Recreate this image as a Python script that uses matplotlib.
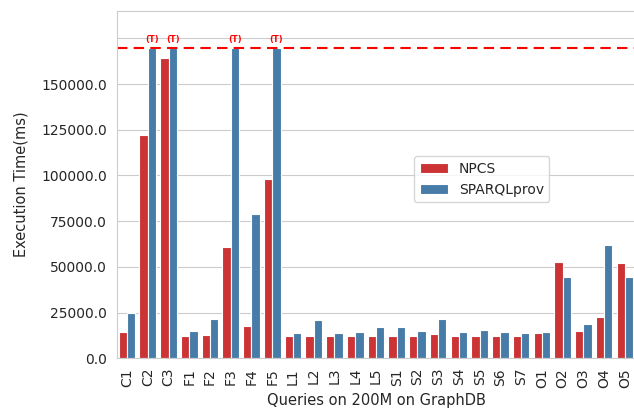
import numpy as np
import pandas as pd
import matplotlib
matplotlib.use("Agg")
import matplotlib.pyplot as plt
import seaborn as sns

# Query names and execution times (ms)
queries = ['C1', 'C2', 'C3', 'F1', 'F2', 'F3', 'F4', 'F5',
           'L1', 'L2', 'L3', 'L4', 'L5',
           'S1', 'S2', 'S3', 'S4', 'S5', 'S6', 'S7',
           'O1', 'O2', 'O3', 'O4', 'O5']
npcs = [14300, 122000, 164300, 11900, 12900, 61000, 17900, 98100,
        11900, 12400, 11900, 11900, 12400,
        12400, 12400, 13200, 11900, 11900, 11900, 11900,
        13700, 52600, 14800, 22700, 52300]
sparqlprov = [25000, 170000, 170000, 15100, 21700, 170000, 79000, 170000,
              13700, 21000, 13700, 14600, 17000,
              17000, 15100, 21700, 14300, 15700, 14300, 13700,
              14300, 44200, 19000, 62100, 44200]
timeout = 170000
# which (method, query) pairs hit the timeout
timed_out = [('SPARQLprov', 'C2'), ('SPARQLprov', 'C3'),
             ('SPARQLprov', 'F3'), ('SPARQLprov', 'F5')]
methods = ['NPCS', 'SPARQLprov']

df = pd.DataFrame({
    'query': queries * 2,
    'method': ['NPCS'] * len(queries) + ['SPARQLprov'] * len(queries),
    'time': npcs + sparqlprov,
})

sns.set_style('whitegrid')
plt.rcParams['font.family'] = ['DejaVu Sans']

fig = plt.figure(figsize=(6.34, 4.08), dpi=100)
ax = fig.add_axes([0.184, 0.122, 0.818, 0.851])

sns.barplot(data=df, x='query', y='time', hue='method', hue_order=methods,
            palette='Set1', order=queries, ax=ax, legend=True,
            edgecolor='white', linewidth=0.8)

ax.axhline(timeout, color='red', linestyle=(0, (5, 3)), linewidth=1.5)

# (T) marks above timed-out bars
n = len(queries)
for m, q in timed_out:
    i = queries.index(q)
    off = -0.2 if m == 'NPCS' else 0.2
    ax.text(i + off, timeout + 1800, '(T)', color='red', fontsize=6,
            fontweight='bold', ha='center', va='bottom')

ax.set_ylim(0, 190000)
ticks = np.arange(0, 175001, 25000)
ax.set_yticks(ticks)
ax.set_yticklabels([f'{t:.1f}' for t in ticks[:-1]] + [''], fontsize=10)
ax.tick_params(axis='x', labelrotation=90, labelsize=10)
ax.set_xlim(-0.5, n - 0.5)
ax.set_xlabel('Queries on 200M on GraphDB', fontsize=10.5)
ax.set_ylabel('Execution Time(ms)', fontsize=10.5, labelpad=9)

ax.legend(loc='center', bbox_to_anchor=(0.76, 0.561),
          bbox_transform=fig.transFigure, fontsize=10, title=None)

fig.savefig('out.png', dpi=100)
